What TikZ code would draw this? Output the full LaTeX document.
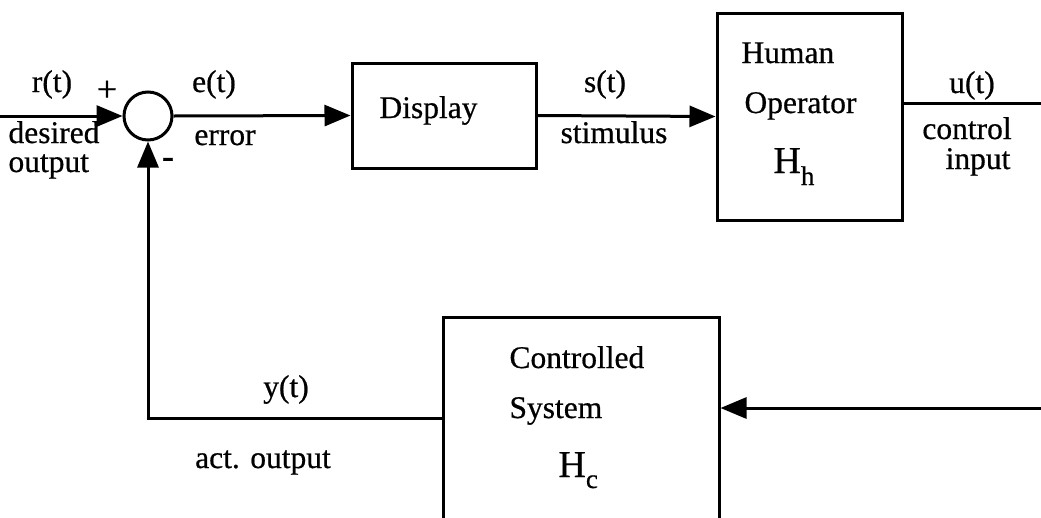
\documentclass[tikz,border=0pt]{standalone}
\usepackage{fontspec}
\setmainfont{Liberation Serif}[FakeBold=0.6]
\usetikzlibrary{arrows.meta}
\begin{document}
\begin{tikzpicture}[x=1pt,y=-1pt,
  line width=3pt,
  lbl/.style={inner sep=0pt, font=\fontsize{31.5}{31.5}\selectfont, anchor=base},
  lblw/.style={lbl, anchor=base west},
  sgn/.style={inner sep=0pt, font=\fontsize{36}{36}\selectfont},
  blk/.style={draw, line width=3pt, inner sep=0pt},
  arr/.style={-{Triangle[length=26pt,width=21pt]}},
  bigH/.style={inner sep=0pt, anchor=base west, font=\fontsize{38}{38}\selectfont},
]
\useasboundingbox (0,0) rectangle (1041,517);
\clip (0,0) rectangle (1041,517);

% blocks
\node[blk, circle, minimum size=48pt] (sum) at (148,116) {};
\node[blk, minimum width=184pt, minimum height=105pt] (disp) at (444,115.5) {};
\node[blk, minimum width=185pt, minimum height=207pt] (human) at (809.5,116.5) {};
\node[blk, minimum width=276pt, minimum height=243pt] (plant) at (581,438.5) {};

% free ends
\coordinate (rin) at (0,116);
\coordinate (uout) at (1041,103);
\coordinate (cin) at (1041,408);
\coordinate (yline) at (0,418);

% connectors
\draw[arr] (rin) -- (sum.west);
\draw[arr] (sum.east) -- (disp.west);
\draw[arr] (disp.east) -- (human.west);
\draw (human.east |- uout) -- (uout);
\draw[arr] (cin) -- (plant.east |- cin);
\draw[arr] (plant.west |- yline) -| (sum.south);

% signal labels
\node[lbl] (rt) at (52,92) {r(t)};
\node[sgn] (plus) at (107,91) {+};
\node[sgn] (minus) at (168,163) {-};
\node[lblw] (des1) at (7,143) {desired};
\node[lblw] (des2) at (7,172) {output};
\node[lbl] (et) at (214,92) {e(t)};
\node[lbl] (err) at (225,145) {error};
\node[lbl] (st) at (605,92) {s(t)};
\node[lbl] (stim) at (614,143) {stimulus};
\node[lbl] (ut) at (972,93) {u(t)};
\node[lbl] (ci1) at (967,139) {control};
\node[lbl] (ci2) at (978,169) {input};
\node[lbl] (yt) at (286,397) {y(t)};
\node[lbl] (act) at (263,468) {act. output};

% block texts
\node[lblw] (dispt) at (378,118) {Display};
\node[lblw] (hum1) at (740,63) {Human};
\node[lblw] (hum2) at (743,113) {Operator};
\node[bigH] (hh) at (772,173) {H\raisebox{-12pt}{\fontsize{27}{27}\selectfont h}};
\node[lblw] (pl1) at (508,368) {Controlled};
\node[lblw] (pl2) at (508,418) {System};
\node[bigH] (hc) at (557,477) {H\raisebox{-11pt}{\fontsize{27}{27}\selectfont c}};
\end{tikzpicture}
\end{document}
